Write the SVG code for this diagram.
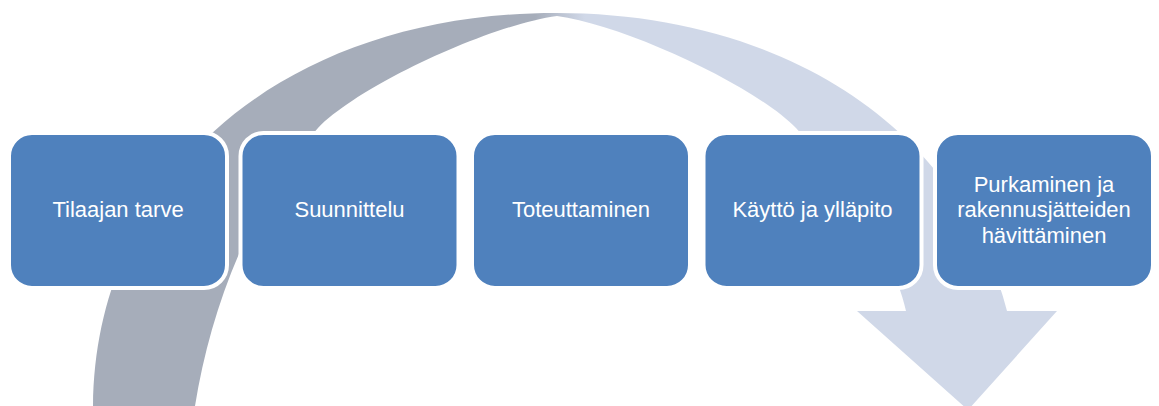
<svg xmlns="http://www.w3.org/2000/svg" width="1159" height="406" viewBox="0 0 1159 406">
<style>
.box{fill:#4F81BD;stroke:#FFFFFF;stroke-width:4}
.lbl{font-family:"Liberation Sans",Arial,sans-serif;font-size:22px;fill:#FFFFFF;text-anchor:middle}
</style>
<defs>
<linearGradient id="arrowGrad" gradientUnits="userSpaceOnUse" x1="535" y1="0" x2="585" y2="0">
<stop offset="0" stop-color="#A6ADBA"/>
<stop offset="1" stop-color="#D0D8E8"/>
</linearGradient>
</defs>
<rect width="1159" height="406" fill="#FFFFFF"/>
<g id="connectors">
<path fill="url(#arrowGrad)" d="M93,406 C95,175 285,13 556,13 C788,13 961,132 1007,311 L1057,311 L968,410 L857,311 L906,311 C893,252 843,180 796,128 C754,85 624,25 557,16 C490,25 360,85 318,128 C251,202 211,307 195,406 Z"/>
</g>
<g id="node1">
<rect class="box" x="9" y="133" width="218" height="155" rx="23"/>
<text class="lbl" x="118" y="217">Tilaajan tarve</text>
</g>
<g id="node2">
<rect class="box" x="240.5" y="133" width="218" height="155" rx="23"/>
<text class="lbl" x="349.5" y="217">Suunnittelu</text>
</g>
<g id="node3">
<rect class="box" x="472" y="133" width="218" height="155" rx="23"/>
<text class="lbl" x="581" y="217">Toteuttaminen</text>
</g>
<g id="node4">
<rect class="box" x="703.5" y="133" width="218" height="155" rx="23"/>
<text class="lbl" x="812.5" y="217">Käyttö ja ylläpito</text>
</g>
<g id="node5">
<rect class="box" x="935" y="133" width="218" height="155" rx="23"/>
<text class="lbl" x="1044" y="192">Purkaminen ja</text>
<text class="lbl" x="1044" y="217">rakennusjätteiden</text>
<text class="lbl" x="1044" y="243">hävittäminen</text>
</g>
</svg>
